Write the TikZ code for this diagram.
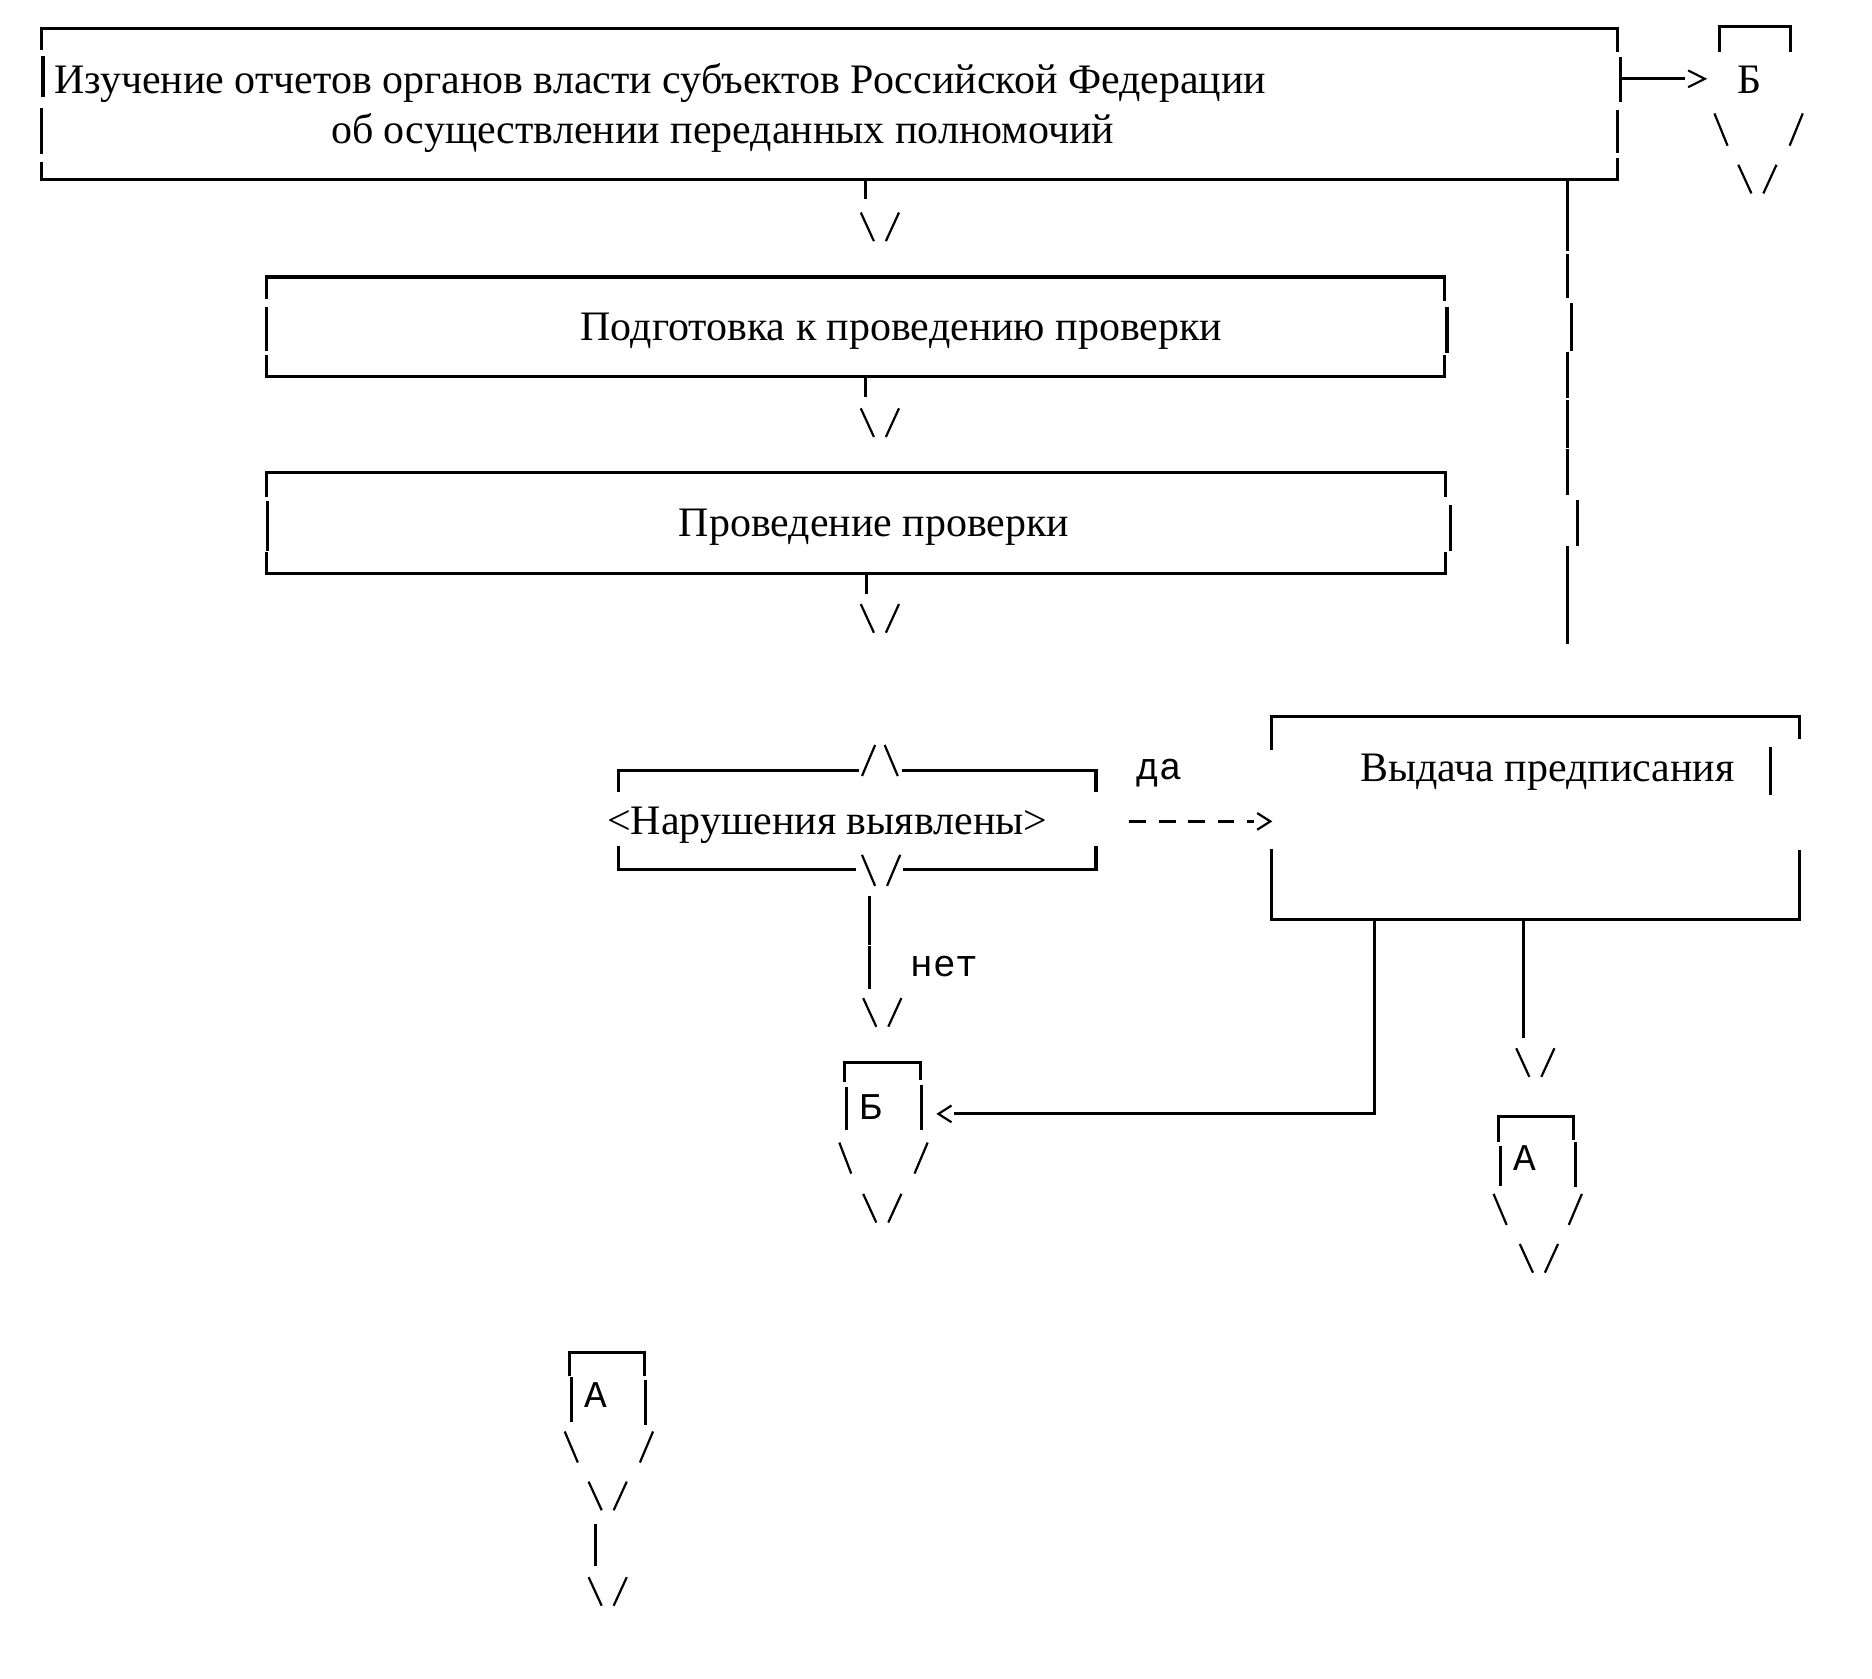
\documentclass[tikz,border=0pt]{standalone}
\usepackage{fontspec}
\setmainfont{Liberation Serif}
\newfontfamily\monof{Liberation Mono}
\begin{document}
\begin{tikzpicture}[x=0.2mm,y=-0.2mm,
  frame/.style={line width=1.45pt, line cap=rect},
  chev/.style={line width=1.05pt},
  lbl/.style={inner sep=0pt, font=\fontsize{20}{24}\selectfont},
  mlbl/.style={inner sep=0pt, font=\monof\fontsize{18}{22}\selectfont},
  vv/.pic={\draw[chev] (-16,-12)--(-5,12) (5,12)--(16,-12);},
  wv/.pic={\draw[chev] (-37,-13)--(-26,13) (37,-13)--(26,13);}]
\useasboundingbox (0,0) rectangle (1568,1406);

% ---------- box 1
\draw[frame] (35,41) |- (1355,24) -- (1355,42);
\draw[frame] (36,48) -- (36,80);
\draw[frame] (35,92) -- (35,128);
\draw[frame] (35,137) |- (1355,150) -- (1355,134);
\draw[frame] (1357,49) -- (1357,84);
\draw[frame] (1355,93) -- (1355,127);
\node[lbl, anchor=base west] (t1) at (45,78) {Изучение отчетов органов власти субъектов Российской Федерации};
\node[lbl, anchor=base west] (t2) at (277,120) {об осуществлении переданных полномочий};

% ---------- B top right
\coordinate (b1r) at (1358,66);
\coordinate (btip) at (1428,66);
\draw[frame] (b1r) -- (1410,66);
\draw[chev] (1414,59) -- (btip) -- (1414,73);
\draw[frame] (1440,42) |- (1500,22) -- (1500,42);
\node[lbl, anchor=base] (bt) at (1465,78) {Б};
\draw[chev] (1436,95)--(1447,122) (1510,95)--(1499,122);
\pic at (1472,150) {vv};

% ---------- long vertical from box 1
\foreach \a/\b/\x in {150/209/1313,214/248/1313,255/293/1316,296/332/1313,336/374/1313,377/413/1313,420/456/1321,459/497/1313,500/538/1313}
  \draw[frame] (\x,\a) -- (\x,\b);

% ---------- arrow 1
\coordinate (b1s) at (725,150);
\draw[frame] (b1s) -- (725,165);
\pic at (737,190) {vv};

% ---------- box 2
\draw[frame] (223,249) |- (1210,232) -- (1210,251);
\draw[frame] (223,258) -- (223,293);
\draw[frame] (1212,258) -- (1212,294);
\draw[frame] (223,299) |- (1210,315) -- (1210,299);
\node[lbl, anchor=base] (t3) at (755,285) {Подготовка к проведению проверки};

\coordinate (b2s) at (725,315);
\draw[frame] (b2s) -- (725,331);
\pic at (737,354) {vv};

% ---------- box 3
\draw[frame] (223,415) |- (1211,396) -- (1211,415);
\draw[frame] (224,421) -- (224,460);
\draw[frame] (1215,424) -- (1215,460);
\draw[frame] (223,464) |- (1211,480) -- (1211,464);
\node[lbl, anchor=base] (t4) at (732,449) {Проведение проверки};

\coordinate (b3s) at (726,480);
\draw[frame] (b3s) -- (726,496);
\pic at (737,518) {vv};

% ---------- decision
\draw[frame] (518,662) |- (718,645);
\draw[frame] (757,645) -| (918,662);
\draw[chev] (722,650)--(733,624) (741,624)--(752,650);
\draw[frame] (518,710) |- (716,728);
\draw[frame] (758,728) -| (918,710);
\draw[chev] (722,716)--(733,742) (743,742)--(754,716);
\node[lbl, anchor=base] (t5) at (693,699) {<Нарушения выявлены>};

\node[mlbl, anchor=base] (da) at (971,653) {да};
\coordinate (dst) at (946,688);
\coordinate (dtip) at (1064,688);
\draw[chev, dash pattern=on 8pt off 6pt] (dst) -- (1050,688);
\draw[chev] (1053,681) -- (dtip) -- (1053,695);

% ---------- Vydacha box
\draw[frame] (1065,627) |- (1507,600) -- (1507,618);
\draw[frame] (1065,712) |- (1507,770) -- (1507,713);
\draw[frame] (1483,627) -- (1483,665);
\node[lbl, anchor=base] (t6) at (1296,655) {Выдача предписания};

% ---------- net branch
\coordinate (ds) at (728,752);
\draw[frame] (ds) -- (728,790);
\draw[frame] (728,794) -- (728,827);
\node[mlbl, anchor=base] (net) at (791,818) {нет};
\pic at (739,848) {vv};

% ---------- B lower
\draw[frame] (707,905) |- (771,890) -- (771,903);
\draw[frame] (709,912) -- (709,945);
\draw[frame] (772,910) -- (772,945);
\node[mlbl, anchor=base] (bl) at (729,938) {Б};
\draw[chev] (703,957)--(713,983) (777,957)--(766,983);
\pic at (739,1012) {vv};

% ---------- connectors from Vydacha
\coordinate (v1) at (1151,770);
\coordinate (ltip) at (786,933);
\draw[frame] (v1) |- (800,933);
\draw[chev] (797,926) -- (ltip) -- (797,940);
\coordinate (v2) at (1276,770);
\draw[frame] (v2) -- (1276,868);
\pic at (1286,890) {vv};

% ---------- A right
\draw[frame] (1255,955) |- (1318,935) -- (1318,954);
\draw[frame] (1257,961) -- (1257,992);
\draw[frame] (1320,958) -- (1320,993);
\node[mlbl, anchor=base] (ar) at (1277,980) {А};
\pic at (1288,1013) {wv};
\pic at (1289,1054) {vv};

% ---------- A lower left
\draw[frame] (477,1151) |- (540,1133) -- (540,1151);
\draw[frame] (479,1155) -- (479,1190);
\draw[frame] (541,1157) -- (541,1192);
\node[mlbl, anchor=base] (al) at (499,1179) {А};
\pic at (510,1212) {wv};
\pic at (509,1253) {vv};
\draw[frame] (499,1278) -- (499,1310);
\pic at (509,1333) {vv};
\end{tikzpicture}
\end{document}
